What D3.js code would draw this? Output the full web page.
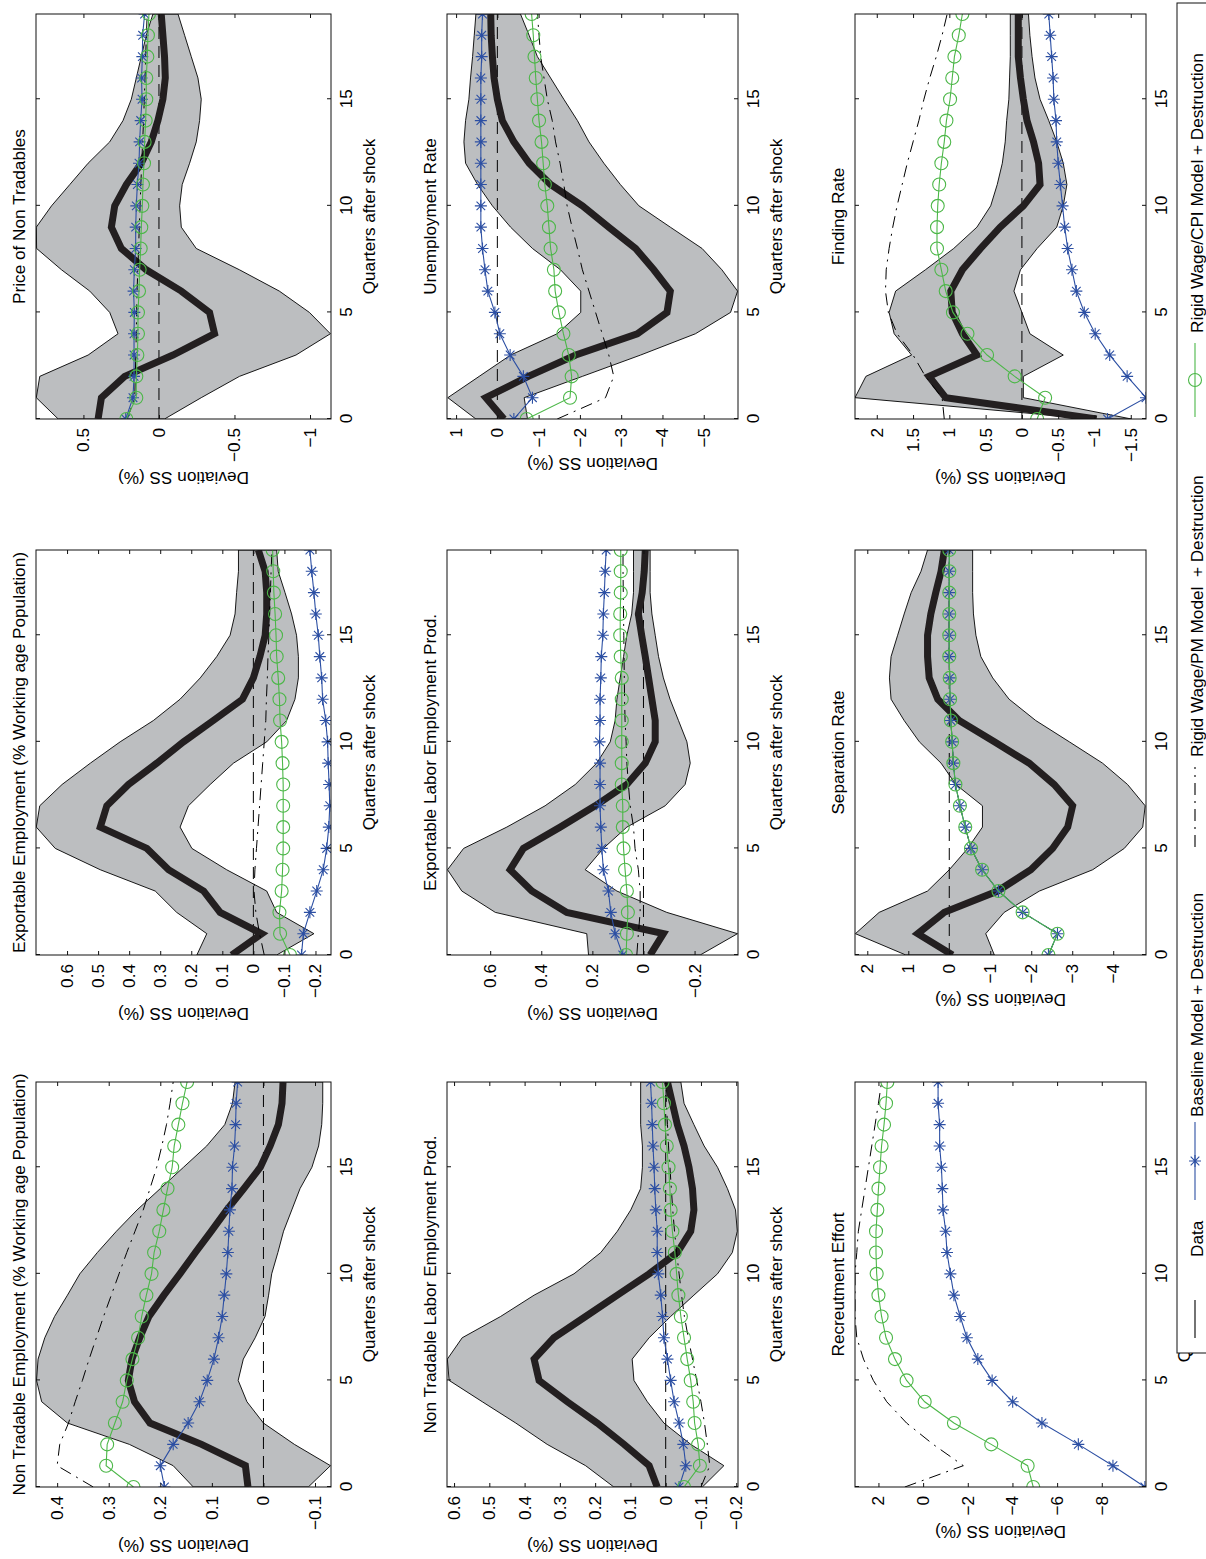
<!DOCTYPE html>
<html>
<head>
<meta charset="utf-8">
<script src="https://cdn.jsdelivr.net/npm/d3@7"></script>
<style>
body { margin: 0; background: #fff; }
svg { display: block; }
</style>
</head>
<body>
<div id="chart"></div>
<script>
(function () {

const [WIDTH, HEIGHT] = [1206, 1559];
const FONT = '"Liberation Sans", Arial, Helvetica, sans-serif';
const FONT_SIZE = 17.2;

const QUARTERS = [0, 1, 2, 3, 4, 5, 6, 7, 8, 9, 10, 11, 12, 13, 14, 15, 16, 17, 18, 19];
const QUARTER_TICKS = [0, 5, 10, 15];

const LEGEND_LABELS = ['Data', 'Baseline Model + Destruction',
    'Rigid Wage/PM Model  + Destruction', 'Rigid Wage/CPI Model + Destruction'];

// Non Tradable Employment
const ntEmpData = [0.03, 0.035, 0.12, 0.22, 0.25, 0.262, 0.255, 0.24, 0.222, 0.193, 0.162, 0.132, 0.101, 0.071, 0.038, 0.006, -0.013, -0.029, -0.036, -0.038];
const ntEmpHigh = [0.136, 0.175, 0.26, 0.38, 0.43, 0.44, 0.437, 0.424, 0.405, 0.38, 0.356, 0.322, 0.285, 0.245, 0.2, 0.155, 0.11, 0.075, 0.06, 0.055];
const ntEmpLow = [-0.087, -0.13, -0.06, 0.0, 0.032, 0.049, 0.039, 0.016, -0.003, -0.01, -0.016, -0.028, -0.039, -0.055, -0.071, -0.094, -0.107, -0.113, -0.115, -0.115];
const ntEmpBase = [0.192, 0.2, 0.175, 0.146, 0.124, 0.109, 0.096, 0.087, 0.08, 0.076, 0.072, 0.069, 0.067, 0.065, 0.061, 0.06, 0.056, 0.054, 0.053, 0.05];
const ntEmpPM = [0.33, 0.4, 0.395, 0.378, 0.365, 0.351, 0.338, 0.324, 0.31, 0.295, 0.28, 0.265, 0.249, 0.233, 0.22, 0.207, 0.197, 0.188, 0.181, 0.175];
const ntEmpCPI = [0.252, 0.305, 0.303, 0.288, 0.273, 0.265, 0.254, 0.243, 0.236, 0.227, 0.217, 0.212, 0.202, 0.194, 0.186, 0.177, 0.173, 0.165, 0.157, 0.148];

// Exportable Employment
const exEmpData = [0.07, -0.027, 0.107, 0.16, 0.273, 0.343, 0.493, 0.472, 0.402, 0.311, 0.225, 0.129, 0.035, 0.0, -0.021, -0.038, -0.043, -0.043, -0.038, -0.016];
const exEmpHigh = [0.182, 0.15, 0.247, 0.316, 0.493, 0.638, 0.699, 0.688, 0.616, 0.525, 0.429, 0.322, 0.236, 0.171, 0.118, 0.075, 0.059, 0.054, 0.048, 0.048];
const exEmpLow = [-0.075, -0.195, -0.075, -0.043, 0.086, 0.198, 0.236, 0.209, 0.139, 0.064, -0.043, -0.107, -0.134, -0.145, -0.145, -0.139, -0.123, -0.102, -0.08, -0.075];
const exEmpBase = [-0.155, -0.161, -0.182, -0.204, -0.225, -0.236, -0.243, -0.246, -0.244, -0.241, -0.239, -0.233, -0.223, -0.22, -0.214, -0.209, -0.201, -0.195, -0.188, -0.182];
const exEmpPM = [-0.035, -0.02, -0.008, -0.002, -0.005, -0.01, -0.015, -0.02, -0.025, -0.03, -0.035, -0.04, -0.042, -0.045, -0.047, -0.05, -0.052, -0.055, -0.057, -0.06];
const exEmpCPI = [-0.118, -0.086, -0.084, -0.091, -0.094, -0.096, -0.096, -0.096, -0.096, -0.094, -0.091, -0.086, -0.084, -0.08, -0.075, -0.073, -0.07, -0.066, -0.064, -0.062];

// Price of Non Tradables
const priceData = [0.403, 0.381, 0.227, -0.093, -0.368, -0.335, -0.148, 0.084, 0.249, 0.315, 0.293, 0.216, 0.117, 0.051, 0.007, -0.026, -0.042, -0.037, -0.026, -0.015];
const priceHigh = [0.667, 0.812, 0.789, 0.469, 0.271, 0.326, 0.458, 0.645, 0.81, 0.812, 0.711, 0.59, 0.469, 0.326, 0.238, 0.183, 0.15, 0.117, 0.084, 0.04];
const priceLow = [-0.037, -0.28, -0.533, -0.907, -1.135, -0.996, -0.797, -0.533, -0.247, -0.148, -0.137, -0.154, -0.203, -0.247, -0.269, -0.28, -0.258, -0.214, -0.17, -0.126];
const priceBase = [0.22, 0.172, 0.165, 0.165, 0.165, 0.163, 0.168, 0.163, 0.154, 0.154, 0.15, 0.143, 0.132, 0.128, 0.121, 0.112, 0.115, 0.11, 0.108, 0.095];
const pricePM = [0.21, 0.16, 0.157, 0.153, 0.15, 0.148, 0.145, 0.14, 0.135, 0.13, 0.125, 0.12, 0.114, 0.108, 0.102, 0.097, 0.092, 0.088, 0.083, 0.078];
const priceCPI = [0.216, 0.15, 0.15, 0.143, 0.139, 0.139, 0.132, 0.128, 0.121, 0.117, 0.11, 0.106, 0.099, 0.095, 0.088, 0.084, 0.084, 0.077, 0.073, 0.066];

// Non Tradable Labor Employment Prod.
const ntProdData = [0.024, 0.047, 0.118, 0.194, 0.279, 0.359, 0.373, 0.317, 0.227, 0.137, 0.047, -0.033, -0.071, -0.08, -0.076, -0.066, -0.052, -0.033, -0.019, -0.005];
const ntProdHigh = [0.147, 0.227, 0.336, 0.425, 0.52, 0.614, 0.619, 0.577, 0.468, 0.373, 0.26, 0.184, 0.137, 0.099, 0.071, 0.066, 0.066, 0.071, 0.071, 0.071];
const ntProdLow = [-0.104, -0.165, -0.071, 0.005, 0.052, 0.09, 0.095, 0.047, -0.014, -0.08, -0.147, -0.189, -0.203, -0.198, -0.175, -0.147, -0.109, -0.08, -0.052, -0.043];
const ntProdBase = [-0.038, -0.057, -0.05, -0.038, -0.024, -0.014, -0.005, 0.005, 0.009, 0.014, 0.021, 0.024, 0.024, 0.028, 0.031, 0.033, 0.036, 0.038, 0.04, 0.043];
const ntProdPM = [-0.1, -0.125, -0.118, -0.11, -0.1, -0.088, -0.076, -0.064, -0.053, -0.045, -0.038, -0.031, -0.025, -0.02, -0.016, -0.012, -0.008, -0.005, -0.002, 0.0];
const ntProdCPI = [-0.052, -0.097, -0.092, -0.082, -0.078, -0.071, -0.061, -0.052, -0.043, -0.036, -0.031, -0.026, -0.019, -0.014, -0.012, -0.008, -0.003, 0.002, 0.005, 0.009];

// Exportable Labor Employment Prod.
const exProdData = [-0.026, -0.078, 0.3, 0.437, 0.522, 0.47, 0.326, 0.189, 0.065, -0.007, -0.046, -0.046, -0.033, -0.02, -0.007, 0.007, 0.02, 0.005, -0.003, -0.007];
const exProdHigh = [0.215, 0.222, 0.58, 0.711, 0.767, 0.704, 0.535, 0.385, 0.267, 0.183, 0.13, 0.111, 0.104, 0.091, 0.078, 0.065, 0.046, 0.039, 0.039, 0.039];
const exProdLow = [-0.222, -0.368, -0.091, 0.104, 0.228, 0.157, 0.065, -0.085, -0.163, -0.183, -0.17, -0.137, -0.104, -0.078, -0.059, -0.046, -0.033, -0.026, -0.026, -0.026];
const exProdBase = [0.081, 0.111, 0.128, 0.137, 0.157, 0.163, 0.167, 0.17, 0.17, 0.17, 0.172, 0.17, 0.17, 0.167, 0.165, 0.159, 0.157, 0.153, 0.15, 0.146];
const exProdPM = [0.026, 0.02, 0.013, 0.013, 0.02, 0.033, 0.039, 0.052, 0.059, 0.065, 0.068, 0.072, 0.074, 0.075, 0.076, 0.077, 0.078, 0.079, 0.08, 0.08];
const exProdCPI = [0.068, 0.065, 0.061, 0.065, 0.072, 0.078, 0.081, 0.081, 0.085, 0.085, 0.085, 0.085, 0.085, 0.085, 0.089, 0.091, 0.091, 0.089, 0.089, 0.089];

// Unemployment Rate
const unempData = [-0.16, 0.28, -0.75, -1.9, -3.39, -4.11, -4.19, -3.79, -3.35, -2.7, -2.06, -1.29, -0.77, -0.4, -0.12, 0.0, 0.08, 0.12, 0.15, 0.16];
const unempHigh = [0.52, 1.2, 0.44, -0.32, -1.45, -2.02, -2.02, -1.53, -0.85, -0.32, 0.12, 0.48, 0.77, 0.81, 0.77, 0.69, 0.65, 0.6, 0.56, 0.52];
const unempLow = [-0.73, -0.65, -2.06, -3.47, -4.8, -5.65, -5.82, -5.44, -4.96, -4.19, -3.43, -2.98, -2.58, -2.22, -1.94, -1.61, -1.29, -0.97, -0.77, -0.56];
const unempBase = [-0.4, -0.85, -0.63, -0.31, -0.06, 0.06, 0.23, 0.3, 0.36, 0.4, 0.4, 0.4, 0.4, 0.4, 0.4, 0.4, 0.4, 0.38, 0.38, 0.36];
const unempPM = [-1.45, -2.62, -2.82, -2.7, -2.54, -2.38, -2.22, -2.06, -1.94, -1.81, -1.69, -1.61, -1.52, -1.41, -1.33, -1.21, -1.13, -1.05, -1.01, -0.97];
const unempCPI = [-0.71, -1.76, -1.8, -1.73, -1.6, -1.49, -1.4, -1.37, -1.29, -1.25, -1.21, -1.15, -1.11, -1.07, -1.01, -0.97, -0.93, -0.9, -0.87, -0.83];

// Recreutment Effort (no data band)
const recBase = [-9.93, -8.5, -6.95, -5.32, -4.01, -3.09, -2.45, -1.96, -1.66, -1.38, -1.22, -1.07, -1.01, -0.89, -0.86, -0.82, -0.74, -0.74, -0.67, -0.67];
const recPM = [0.82, -1.8, -0.45, 0.74, 1.63, 2.23, 2.67, 2.97, 3.05, 3.05, 3.05, 2.97, 2.9, 2.75, 2.6, 2.45, 2.3, 2.15, 2.0, 1.86];
const recCPI = [-4.93, -4.68, -3.05, -1.38, -0.07, 0.74, 1.26, 1.66, 1.86, 2.0, 2.08, 2.11, 2.11, 2.05, 2.0, 1.93, 1.86, 1.75, 1.66, 1.6];

// Separation Rate
const sepData = [-0.08, 0.77, 0.12, -1.18, -1.99, -2.52, -2.89, -3.01, -2.56, -1.95, -1.1, -0.24, 0.28, 0.49, 0.53, 0.53, 0.45, 0.33, 0.2, 0.12];
const sepHigh = [1.06, 2.29, 1.71, 0.53, 0.0, -0.45, -0.81, -0.81, -0.16, 0.2, 0.73, 1.1, 1.42, 1.46, 1.42, 1.26, 1.1, 0.93, 0.69, 0.53];
const sepLow = [-1.1, -0.89, -1.34, -2.2, -3.5, -4.27, -4.72, -4.78, -4.35, -3.74, -2.93, -2.11, -1.46, -1.06, -0.77, -0.65, -0.59, -0.57, -0.57, -0.57];
const sepBase = [-2.42, -2.64, -1.79, -1.2, -0.8, -0.53, -0.39, -0.26, -0.15, -0.1, -0.07, -0.04, -0.02, -0.01, 0, 0, 0, 0, 0, 0];
const sepPM = [-2.42, -2.64, -1.79, -1.2, -0.8, -0.53, -0.39, -0.26, -0.15, -0.1, -0.07, -0.04, -0.02, -0.01, 0, 0, 0, 0, 0, 0];
const sepCPI = [-2.42, -2.64, -1.79, -1.2, -0.8, -0.53, -0.39, -0.26, -0.15, -0.1, -0.07, -0.04, -0.02, -0.01, 0, 0, 0, 0, 0, 0];

// Finding Rate
const findData = [-1.03, 1.05, 1.28, 0.62, 0.82, 0.96, 0.98, 0.82, 0.57, 0.3, -0.02, -0.25, -0.23, -0.16, -0.07, -0.02, 0.02, 0.05, 0.05, 0.05];
const findHigh = [-0.98, 2.3, 2.15, 1.52, 1.76, 1.83, 1.74, 1.33, 0.94, 0.62, 0.43, 0.34, 0.27, 0.23, 0.21, 0.18, 0.17, 0.16, 0.16, 0.16];
const findLow = [-1.51, -0.02, -0.02, -0.57, -0.11, 0.0, 0.11, 0.02, -0.21, -0.48, -0.57, -0.62, -0.57, -0.48, -0.37, -0.25, -0.18, -0.14, -0.11, -0.09];
const findBase = [-1.18, -1.71, -1.45, -1.21, -1.01, -0.86, -0.75, -0.69, -0.63, -0.59, -0.56, -0.53, -0.5, -0.48, -0.47, -0.44, -0.43, -0.41, -0.39, -0.37];
const findPM = [1.07, 1.1, 1.33, 1.5, 1.72, 1.84, 1.88, 1.87, 1.83, 1.78, 1.72, 1.65, 1.58, 1.5, 1.42, 1.35, 1.27, 1.18, 1.1, 1.03];
const findCPI = [-0.21, -0.32, 0.1, 0.48, 0.75, 0.95, 1.05, 1.11, 1.17, 1.17, 1.16, 1.14, 1.11, 1.07, 1.04, 0.99, 0.96, 0.93, 0.87, 0.82];

const PANELS = [
    { title: 'Non Tradable Employment (% Working age Population)', row: 0, col: 0,
      domain: [-0.131, 0.441], ticks: [-0.1, 0, 0.1, 0.2, 0.3, 0.4],
      data: ntEmpData, high: ntEmpHigh, low: ntEmpLow, base: ntEmpBase, pm: ntEmpPM, cpi: ntEmpCPI },
    { title: 'Exportable Employment (% Working age Population)', row: 0, col: 1,
      domain: [-0.25, 0.70], ticks: [-0.2, -0.1, 0, 0.1, 0.2, 0.3, 0.4, 0.5, 0.6],
      data: exEmpData, high: exEmpHigh, low: exEmpLow, base: exEmpBase, pm: exEmpPM, cpi: exEmpCPI },
    { title: 'Price of Non Tradables', row: 0, col: 2,
      domain: [-1.139, 0.814], ticks: [-1, -0.5, 0, 0.5],
      data: priceData, high: priceHigh, low: priceLow, base: priceBase, pm: pricePM, cpi: priceCPI },
    { title: 'Non Tradable Labor Employment Prod.', row: 1, col: 0,
      domain: [-0.205, 0.62], ticks: [-0.2, -0.1, 0, 0.1, 0.2, 0.3, 0.4, 0.5, 0.6],
      data: ntProdData, high: ntProdHigh, low: ntProdLow, base: ntProdBase, pm: ntProdPM, cpi: ntProdCPI },
    { title: 'Exportable Labor Employment Prod.', row: 1, col: 1,
      domain: [-0.37, 0.769], ticks: [-0.2, 0, 0.2, 0.4, 0.6],
      data: exProdData, high: exProdHigh, low: exProdLow, base: exProdBase, pm: exProdPM, cpi: exProdCPI },
    { title: 'Unemployment Rate', row: 1, col: 2,
      domain: [-5.83, 1.22], ticks: [-5, -4, -3, -2, -1, 0, 1],
      data: unempData, high: unempHigh, low: unempLow, base: unempBase, pm: unempPM, cpi: unempCPI },
    { title: 'Recreutment Effort', row: 2, col: 0,
      domain: [-9.98, 3.05], ticks: [-8, -6, -4, -2, 0, 2],
      base: recBase, pm: recPM, cpi: recCPI },
    { title: 'Separation Rate', row: 2, col: 1,
      domain: [-4.8, 2.3], ticks: [-4, -3, -2, -1, 0, 1, 2],
      data: sepData, high: sepHigh, low: sepLow, base: sepBase, pm: sepPM, cpi: sepCPI },
    { title: 'Finding Rate', row: 2, col: 2,
      domain: [-1.71, 2.3], ticks: [-1.5, -1, -0.5, 0, 0.5, 1, 1.5, 2],
      data: findData, high: findHigh, low: findLow, base: findBase, pm: findPM, cpi: findCPI },
];

// figure is laid out unrotated (landscape), then turned a quarter left
const FIG_W = HEIGHT;
const COL_LEFT = [72, 604, 1140];
const COL_WIDTH = 405;
const ROW_TOP = [36, 447, 855];
const ROW_HEIGHT = [295, 291, 291];

const STYLE = {
    band: '#bcbec0',
    data: '#231f20',
    base: '#2c4fa3',
    cpi: '#4cb748',
    frame: '#111',
    text: '#000',
};

const tickFormat = d3.format('~g');

function starPath(s) {
    const a = s * 0.72;
    return `M${-s},0H${s}M0,${-s}V${s}M${-a},${-a}L${a},${a}M${-a},${a}L${a},${-a}`;
}

function addText(sel) {
    return sel.append('text')
        .attr('font-family', FONT)
        .attr('font-size', FONT_SIZE)
        .attr('fill', STYLE.text);
}

function renderPanel(fig, p, index) {
    const w = COL_WIDTH, h = ROW_HEIGHT[p.row];
    const g = fig.append('g')
        .attr('transform', `translate(${COL_LEFT[p.col]},${ROW_TOP[p.row]})`);

    const x = d3.scaleLinear().domain([0, 19]).range([0, w]);
    const y = d3.scaleLinear().domain(p.domain).range([h, 0]);

    const clipId = `clip-${index}`;
    g.append('clipPath').attr('id', clipId)
        .append('rect').attr('width', w).attr('height', h);

    const plot = g.append('g').attr('clip-path', `url(#${clipId})`);
    const line = d3.line().x((d, i) => x(QUARTERS[i])).y((d) => y(d));

    if (p.data) {
        const area = d3.area()
            .x((d, i) => x(QUARTERS[i]))
            .y0((d, i) => y(p.low[i]))
            .y1((d) => y(d));
        plot.append('path')
            .attr('d', area(p.high) + 'Z')
            .attr('fill', STYLE.band)
            .attr('stroke', '#000')
            .attr('stroke-width', 0.9);

        plot.append('line')
            .attr('x1', x(0)).attr('x2', x(19))
            .attr('y1', y(0)).attr('y2', y(0))
            .attr('stroke', '#000')
            .attr('stroke-width', 1)
            .attr('stroke-dasharray', '12,7');

        plot.append('path')
            .attr('d', line(p.data))
            .attr('fill', 'none')
            .attr('stroke', STYLE.data)
            .attr('stroke-width', 7)
            .attr('stroke-linejoin', 'miter');
    }

    plot.append('path')
        .attr('d', line(p.pm))
        .attr('fill', 'none')
        .attr('stroke', '#000')
        .attr('stroke-width', 1)
        .attr('stroke-dasharray', '12,6,2,6');

    plot.append('path')
        .attr('d', line(p.base))
        .attr('fill', 'none')
        .attr('stroke', STYLE.base)
        .attr('stroke-width', 1.1);
    plot.selectAll('.star')
        .data(p.base)
        .enter()
        .append('path')
        .attr('class', 'star')
        .attr('transform', (d, i) => `translate(${x(QUARTERS[i])},${y(d)})`)
        .attr('d', starPath(6))
        .attr('stroke', STYLE.base)
        .attr('stroke-width', 1.1)
        .attr('fill', 'none');

    plot.append('path')
        .attr('d', line(p.cpi))
        .attr('fill', 'none')
        .attr('stroke', STYLE.cpi)
        .attr('stroke-width', 1.1);
    plot.selectAll('.ring')
        .data(p.cpi)
        .enter()
        .append('circle')
        .attr('class', 'ring')
        .attr('cx', (d, i) => x(QUARTERS[i]))
        .attr('cy', (d) => y(d))
        .attr('r', 6.5)
        .attr('stroke', STYLE.cpi)
        .attr('stroke-width', 1.1)
        .attr('fill', 'none');

    g.append('rect')
        .attr('width', w).attr('height', h)
        .attr('fill', 'none')
        .attr('stroke', STYLE.frame)
        .attr('stroke-width', 1);

    // axes, ticks pointing inwards on all four sides
    const styleAxis = (sel) => {
        sel.attr('font-family', FONT).attr('font-size', FONT_SIZE).attr('color', STYLE.frame);
        sel.select('.domain').remove();
        sel.selectAll('text').attr('fill', STYLE.text);
    };

    g.append('g')
        .attr('transform', `translate(0,${h})`)
        .call(d3.axisBottom(x).tickValues(QUARTER_TICKS).tickSizeInner(-4)
            .tickSizeOuter(0).tickPadding(9))
        .call(styleAxis);
    g.append('g')
        .call(d3.axisTop(x).tickValues(QUARTER_TICKS).tickSizeInner(-4)
            .tickSizeOuter(0).tickFormat(''))
        .call(styleAxis);
    const yAxisG = g.append('g')
        .call(d3.axisLeft(y).tickValues(p.ticks).tickSizeInner(-4)
            .tickSizeOuter(0).tickPadding(9).tickFormat(tickFormat))
        .call(styleAxis);
    g.append('g')
        .attr('transform', `translate(${w},0)`)
        .call(d3.axisRight(y).tickValues(p.ticks).tickSizeInner(-4)
            .tickSizeOuter(0).tickFormat(''))
        .call(styleAxis);

    const bb = yAxisG.node().getBBox();

    addText(g)
        .attr('transform', `translate(${bb.x - 10},${h / 2}) rotate(-90)`)
        .attr('text-anchor', 'middle')
        .text('Deviation SS (%)');

    addText(g)
        .attr('x', w / 2)
        .attr('y', h + 44)
        .attr('text-anchor', 'middle')
        .text('Quarters after shock');

    addText(g)
        .attr('x', w / 2)
        .attr('y', -11.5)
        .attr('text-anchor', 'middle')
        .text(p.title);
}

function renderLegend(fig) {
    const box = { x: 206, y: 1177, w: 1350, h: 70 };
    const cy = box.y + 18;
    const lg = fig.append('g');

    lg.append('rect')
        .attr('x', box.x).attr('y', box.y)
        .attr('width', box.w).attr('height', box.h)
        .attr('fill', '#fff')
        .attr('stroke', STYLE.frame)
        .attr('stroke-width', 1);

    const items = [
        { x0: 221, x1: 259, text: 302, stroke: '#000' },
        { x0: 359, x1: 437, text: 442, stroke: STYLE.base, marker: 'star' },
        { x0: 712, x1: 792, text: 802, stroke: '#000', dash: '12,6,2,6' },
        { x0: 1142, x1: 1216, text: 1226, stroke: STYLE.cpi, marker: 'ring' },
    ];

    items.forEach((it, i) => {
        lg.append('line')
            .attr('x1', it.x0).attr('x2', it.x1)
            .attr('y1', cy).attr('y2', cy)
            .attr('stroke', it.stroke)
            .attr('stroke-width', 1.1)
            .attr('stroke-dasharray', it.dash || null);
        const mx = (it.x0 + it.x1) / 2;
        if (it.marker === 'star') {
            lg.append('path')
                .attr('transform', `translate(${mx},${cy})`)
                .attr('d', starPath(6))
                .attr('stroke', it.stroke)
                .attr('stroke-width', 1.1)
                .attr('fill', 'none');
        } else if (it.marker === 'ring') {
            lg.append('circle')
                .attr('cx', mx).attr('cy', cy).attr('r', 6.5)
                .attr('stroke', it.stroke)
                .attr('stroke-width', 1.1)
                .attr('fill', 'none');
        }
        addText(lg)
            .attr('x', it.text)
            .attr('y', cy + 8)
            .style('white-space', 'pre')
            .text(LEGEND_LABELS[i]);
    });
}

function render() {
    const svg = d3.select('#chart').append('svg')
        .attr('width', WIDTH)
        .attr('height', HEIGHT)
        .attr('viewBox', `0 0 ${WIDTH} ${HEIGHT}`);

    svg.append('rect').attr('width', WIDTH).attr('height', HEIGHT).attr('fill', '#fff');

    const fig = svg.append('g')
        .attr('transform', `translate(0,${FIG_W}) rotate(-90)`);

    PANELS.forEach((p, i) => renderPanel(fig, p, i));
    renderLegend(fig);
}

render();

})();
</script>
</body>
</html>
